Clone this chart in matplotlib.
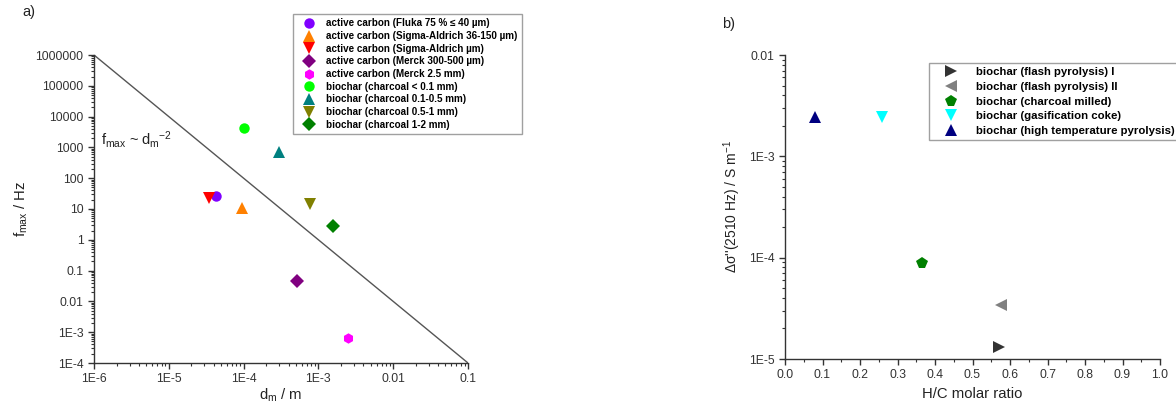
import numpy as np
import matplotlib
matplotlib.use("Agg")
import matplotlib.pyplot as plt
from matplotlib.ticker import LogLocator, MultipleLocator, NullFormatter

plt.rcParams['font.family'] = ['Liberation Sans', 'DejaVu Sans']
plt.rcParams['mathtext.fontset'] = 'custom'
plt.rcParams['mathtext.rm'] = 'Liberation Sans'
plt.rcParams['mathtext.it'] = 'Liberation Sans'

# panel a) particle size vs relaxation frequency
a_labels = ["active carbon (Fluka 75 % \u2264 40 \u00b5m)",
            "active carbon (Sigma-Aldrich 36-150 \u00b5m)",
            "active carbon (Sigma-Aldrich \u00b5m)",
            "active carbon (Merck 300-500 \u00b5m)",
            "active carbon (Merck 2.5 mm)",
            "biochar (charcoal < 0.1 mm)",
            "biochar (charcoal 0.1-0.5 mm)",
            "biochar (charcoal 0.5-1 mm)",
            "biochar (charcoal 1-2 mm)"]
a_d = [4.3e-5, 9.5e-5, 3.4e-5, 5.2e-4, 2.5e-3, 1.0e-4, 3.0e-4, 7.7e-4, 1.55e-3]
a_f = [26, 11, 23, 0.045, 6.5e-4, 4200, 700, 15, 2.8]
a_markers = ["o", "^", "v", "D", "h", "o", "^", "v", "D"]
a_colors = ["#8000ff", "#ff8000", "#ff0000", "#800080", "#ff00ff",
            "#00ff00", "#008080", "#808000", "#008000"]
line_d = [1e-6, 0.1]

# panel b) H/C ratio vs conductivity
b_labels = ["biochar (flash pyrolysis) I",
            "biochar (flash pyrolysis) II",
            "biochar (charcoal milled)",
            "biochar (gasification coke)",
            "biochar (high temperature pyrolysis)"]
b_hc = [0.57, 0.575, 0.366, 0.259, 0.08]
b_sig = [1.3e-5, 3.4e-5, 8.9e-5, 2.45e-3, 2.45e-3]
b_markers = [">", "<", "p", "v", "^"]
b_colors = ["#333333", "#808080", "#008000", "#00ffff", "#000080"]

msize = {"o": 7.5, "^": 8.5, "v": 8.5, "<": 8.5, ">": 8.5, "D": 6.8, "h": 7.5, "p": 8.5}

fig = plt.figure(figsize=(11.76, 4.05), dpi=100)
W, H = 1176, 405
ax1 = fig.add_axes([94 / W, 1 - 363 / H, 374 / W, 308 / H])
ax2 = fig.add_axes([785 / W, 1 - 359 / H, 375 / W, 304 / H])

for i in range(len(a_d)):
    ax1.plot(a_d[i], a_f[i], a_markers[i], color=a_colors[i],
             ms=msize[a_markers[i]], mew=0, label=a_labels[i], ls="none")
ld = np.array(line_d)
ax1.plot(ld, 1e-6 * ld ** -2.0, color="#555555", lw=1, zorder=1)
ax1.set_xscale("log")
ax1.set_yscale("log")
ax1.set_xlim(1e-6, 0.1)
ax1.set_ylim(1e-4, 1e6)
xt = [1e-6, 1e-5, 1e-4, 1e-3, 1e-2, 0.1]
xtl = ["1E-6", "1E-5", "1E-4", "1E-3", "0.01", "0.1"]
yt = [10.0 ** k for k in range(-4, 7)]
ytl = ["1E-4", "1E-3", "0.01", "0.1", "1", "10", "100", "1000", "10000",
       "100000", "1000000"]
ax1.set_xticks(xt)
ax1.set_xticklabels(xtl)
ax1.set_yticks(yt)
ax1.set_yticklabels(ytl)
ax1.xaxis.set_minor_locator(LogLocator(base=10, subs=np.arange(2, 10)))
ax1.yaxis.set_minor_locator(LogLocator(base=10, subs=np.arange(2, 10), numticks=20))
ax1.xaxis.set_minor_formatter(NullFormatter())
ax1.yaxis.set_minor_formatter(NullFormatter())
ax1.set_xlabel("d$_m$ / m", fontsize=10.7, color="#222222", labelpad=1)
ax1.set_ylabel("f$_{max}$ / Hz", fontsize=10.7, color="#222222")
ax1.text(0.02, 0.71, "f$_{max}$ ~ d$_m$$^{-2}$", transform=ax1.transAxes,
         fontsize=10.5, color="#222222")
ax1.legend(loc="upper left", bbox_to_anchor=(293 / W, 1 - 14 / H),
           bbox_transform=fig.transFigure, prop={"size": 7.1, "weight": "bold"},
           frameon=True, fancybox=False, edgecolor="#888888", handletextpad=0.6,
           borderpad=0.45, labelspacing=0.27, handlelength=2.3, borderaxespad=0)

for i in range(len(b_hc)):
    ax2.plot(b_hc[i], b_sig[i], b_markers[i], color=b_colors[i],
             ms=msize[b_markers[i]], mew=0, label=b_labels[i], ls="none")
ax2.set_yscale("log")
ax2.set_xlim(0, 1.0)
ax2.set_ylim(1e-5, 1e-2)
ax2.set_xticks(np.arange(0, 1.01, 0.1))
ax2.set_xticklabels(["%.1f" % v for v in np.arange(0, 1.01, 0.1)])
ax2.xaxis.set_minor_locator(MultipleLocator(0.05))
ax2.set_yticks([1e-5, 1e-4, 1e-3, 1e-2])
ax2.set_yticklabels(["1E-5", "1E-4", "1E-3", "0.01"])
ax2.yaxis.set_minor_locator(LogLocator(base=10, subs=np.arange(2, 10), numticks=20))
ax2.yaxis.set_minor_formatter(NullFormatter())
ax2.set_xlabel("H/C molar ratio", fontsize=10.7, color="#222222")
ax2.set_ylabel("\u0394\u03c3''(2510 Hz) / S m$^{-1}$", fontsize=10, color="#222222")
ax2.legend(loc="upper left", bbox_to_anchor=(929 / W, 1 - 63 / H),
           bbox_transform=fig.transFigure, prop={"size": 8.2, "weight": "bold"},
           frameon=True, fancybox=False, edgecolor="#888888", handletextpad=0.6,
           borderpad=0.35, labelspacing=0.42, handlelength=3.2, borderaxespad=0)

for ax in (ax1, ax2):
    ax.spines["top"].set_visible(False)
    ax.spines["right"].set_visible(False)
    for s in ("left", "bottom"):
        ax.spines[s].set_color("#333333")
        ax.spines[s].set_linewidth(1.0)
    ax.tick_params(which="major", direction="out", length=4, width=1,
                   labelsize=8.7, colors="#333333")
    ax.tick_params(which="minor", direction="out", length=2.2, width=0.8,
                   colors="#333333")

fig.text(22 / W, 1 - 12 / H, "a)", fontsize=10.5, va="center", color="#222222")
fig.text(722 / W, 1 - 24 / H, "b)", fontsize=10.5, va="center", color="#222222")

fig.savefig("out.png", dpi=100, facecolor="white")
